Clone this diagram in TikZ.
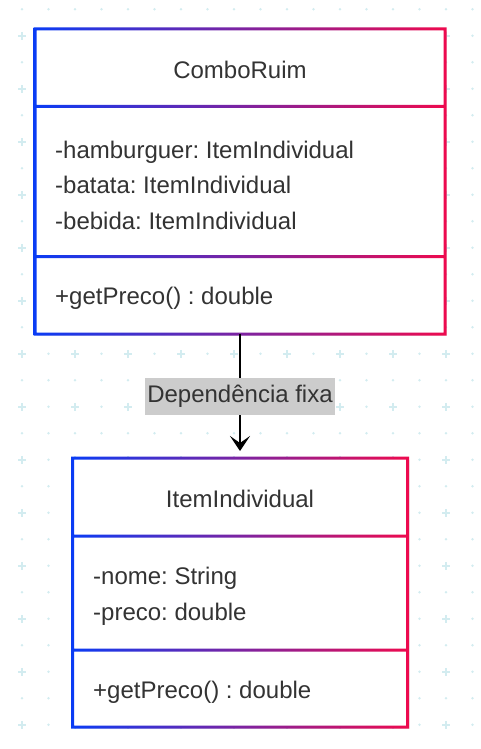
\documentclass[tikz,border=0pt]{standalone}
\usepackage{fontspec}
\setmainfont{Liberation Sans}
\frenchspacing
\usetikzlibrary{calc}
\usetikzlibrary{positioning}
\usetikzlibrary{arrows.meta}
\usetikzlibrary{shadows}

\definecolor{umlblue}{HTML}{0A3CF5}
\definecolor{umlred}{HTML}{EE0A4E}
\definecolor{griddot}{HTML}{D3ECF0}
\definecolor{labelgray}{HTML}{CCCCCC}
\definecolor{textgray}{HTML}{333333}

\begin{document}
\begin{tikzpicture}[x=1pt,y=-1pt,
  every node/.style={font=\fontsize{24}{35.5}\selectfont,text=textgray},
  compart/.style={fill=white,inner sep=0pt,outer sep=0pt,drop shadow={shadow xshift=2pt,shadow yshift=-2pt,opacity=0.12}},
  combobox/.style={compart,minimum width=410pt},
  itembox/.style={compart,minimum width=335pt},
  classname/.style={inner sep=0pt,align=center},
  members/.style={inner sep=0pt,align=left,anchor=west},
  deplabel/.style={fill=labelgray,inner xsep=2pt,minimum height=37pt}]

\useasboundingbox (0,0) rectangle (480,749);

% background grid
\foreach \i in {0,...,17}
  \foreach \j in {0,...,27}
    \fill[griddot] (22+26.5*\i,9.3+26.5*\j) circle (1.4pt);
\foreach \i in {0,2,...,16}
  \foreach \j in {1,3,...,27}
    \draw[griddot,line width=1.5pt] (22+26.5*\i-4,9.3+26.5*\j) -- ++(8,0) (22+26.5*\i,9.3+26.5*\j-4) -- ++(0,8);

% ComboRuim
\node[combobox,minimum height=77.5pt] (combo name) at (240,67.75) {};
\node[combobox,minimum height=150pt,below=0pt of combo name] (combo attrs) {};
\node[combobox,minimum height=77.5pt,below=0pt of combo attrs] (combo ops) {};
\node[classname] (combo title) at ([yshift=-2pt]combo name.center) {ComboRuim};
\node[members] (combo attr text) at ([xshift=20pt,yshift=-3.5pt]combo attrs.west) {-hamburguer: ItemIndividual\\-batata: ItemIndividual\\-bebida: ItemIndividual};
\node[members] (combo op text) at ([xshift=20pt,yshift=-3.5pt]combo ops.west) {+getPreco() : double};

% ItemIndividual
\node[itembox,minimum height=78pt] (item name) at (240,497) {};
\node[itembox,minimum height=114pt,below=0pt of item name] (item attrs) {};
\node[itembox,minimum height=77pt,below=0pt of item attrs] (item ops) {};
\node[classname] (item title) at ([yshift=-2pt]item name.center) {ItemIndividual};
\node[members] (item attr text) at ([xshift=20.5pt,yshift=-3.5pt]item attrs.west) {-nome: String\\-preco: double};
\node[members] (item op text) at ([xshift=20.5pt,yshift=-3.5pt]item ops.west) {+getPreco() : double};

% borders
\foreach \c in {combo,item}
  \shade[left color=umlblue,right color=umlred,even odd rule]
    ([shift={(-1.5,-1.5)}]\c\space name.north west) rectangle ([shift={(1.5,1.5)}]\c\space ops.south east)
    ([shift={(1.5,1.5)}]\c\space name.north west) rectangle ([shift={(-1.5,-1.5)}]\c\space name.south east)
    ([shift={(1.5,1.5)}]\c\space attrs.north west) rectangle ([shift={(-1.5,-1.5)}]\c\space attrs.south east)
    ([shift={(1.5,1.5)}]\c\space ops.north west) rectangle ([shift={(-1.5,-1.5)}]\c\space ops.south east);

% dependency
\draw[line width=2.3pt,-{Stealth[length=15pt,width=20pt,inset=7pt]},shorten >=7pt] (combo ops.south) -- (item name.north)
  node[deplabel,midway] (dep) {Dependência fixa};

\end{tikzpicture}
\end{document}
